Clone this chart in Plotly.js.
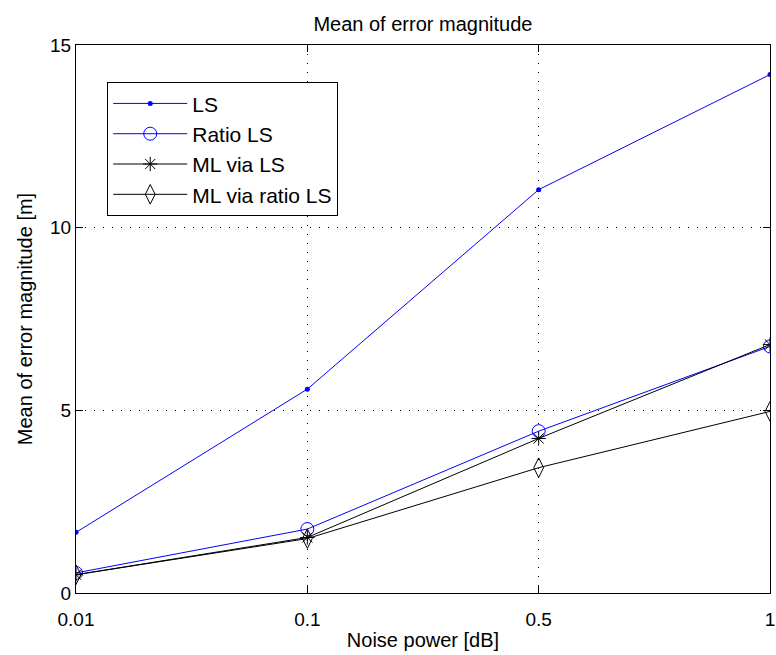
<!DOCTYPE html>
<html>
<head>
<meta charset="utf-8">
<script src="https://cdn.plot.ly/plotly-3.0.1.min.js"></script>
<style>html,body{margin:0;padding:0;background:#fff;}#chart{width:776px;height:655px;}</style>
</head>
<body>
<div id="chart"></div>
<script>
var noiseLabels = ['0.01', '0.1', '0.5', '1'];
var lsValues = [1.66, 5.58, 11.04, 14.19];
var ratioLsValues = [0.55, 1.75, 4.43, 6.75];
var mlViaLsValues = [0.5, 1.52, 4.23, 6.8];
var mlViaRatioLsValues = [0.5, 1.49, 3.43, 4.97];
var yTicks = [0, 5, 10, 15];

var FONT = 'Liberation Sans, Arial, Helvetica, sans-serif';

var traces = [
  {x: noiseLabels, y: lsValues, name: 'LS', type: 'scatter', mode: 'lines+markers',
   line: {color: '#0000ff', width: 1}, marker: {symbol: 'circle', size: 5, color: '#0000ff'}},
  {x: noiseLabels, y: ratioLsValues, name: 'Ratio LS', type: 'scatter', mode: 'lines+markers',
   line: {color: '#0000ff', width: 1}, marker: {symbol: 'circle-open', size: 13, color: '#0000ff', line: {width: 1}}},
  {x: noiseLabels, y: mlViaLsValues, name: 'ML via LS', type: 'scatter', mode: 'lines+markers',
   line: {color: '#000000', width: 1}, marker: {symbol: 'asterisk-open', size: 12, color: '#000000', line: {width: 1, color: '#000000'}}},
  {x: noiseLabels, y: mlViaRatioLsValues, name: 'ML via ratio LS', type: 'scatter', mode: 'lines+markers',
   line: {color: '#000000', width: 1}, marker: {symbol: 'diamond-tall-open', size: 14, color: '#000000', line: {width: 1}}}
];

var layout = {
  width: 776, height: 655,
  margin: {l: 76, r: 6, t: 45, b: 62},
  paper_bgcolor: '#ffffff', plot_bgcolor: '#ffffff',
  font: {family: FONT, size: 19, color: '#000000'},
  title: {text: 'Mean of error magnitude', font: {family: FONT, size: 20, color: '#000'},
          x: 0.545, xanchor: 'center', y: 0.953, yanchor: 'bottom', yref: 'container'},
  showlegend: true,
  legend: {x: 0.045, y: 0.932, xanchor: 'left', yanchor: 'top',
           bgcolor: '#ffffff', bordercolor: '#000000', borderwidth: 1,
           font: {family: FONT, size: 21, color: '#000'}, itemwidth: 74, tracegroupgap: 0},
  xaxis: {
    type: 'category', categoryorder: 'array', categoryarray: noiseLabels,
    range: [0, 3], autorange: false,
    tickvals: noiseLabels, ticktext: noiseLabels,
    showline: true, linecolor: '#000', linewidth: 1, mirror: 'ticks',
    ticks: 'inside', ticklen: 7, tickcolor: '#000',
    showgrid: true, gridcolor: '#000', gridwidth: 1, griddash: '1px,8px',
    zeroline: false, ticklabelstandoff: 9,
    tickfont: {family: FONT, size: 19},
    title: {text: 'Noise power [dB]', font: {family: FONT, size: 20}, standoff: 4}
  },
  yaxis: {
    range: [0, 15], autorange: false,
    tickvals: yTicks, ticktext: yTicks.map(String),
    showline: true, linecolor: '#000', linewidth: 1, mirror: 'ticks',
    ticks: 'inside', ticklen: 7, tickcolor: '#000',
    showgrid: true, gridcolor: '#000', gridwidth: 1, griddash: '1px,8px',
    zeroline: false,
    tickfont: {family: FONT, size: 19},
    title: {text: 'Mean of error magnitude [m]', font: {family: FONT, size: 20}, standoff: 12}
  }
};

Plotly.newPlot('chart', traces, layout, {displayModeBar: false, staticPlot: true});
</script>
</body>
</html>
